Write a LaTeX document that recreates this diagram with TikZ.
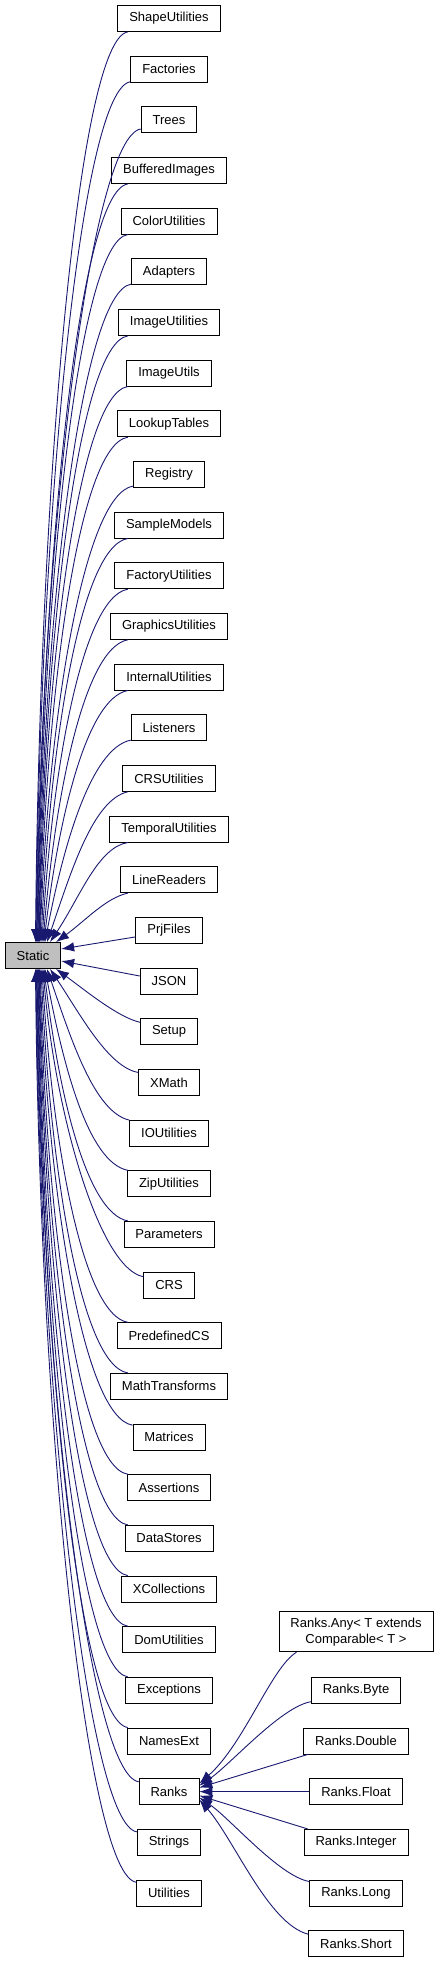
\documentclass[tikz,border=0pt]{standalone}
\usepackage{fontspec}
\setmainfont{Liberation Sans}
\usetikzlibrary{arrows.meta}
\definecolor{midnight}{HTML}{191970}
\definecolor{staticgray}{HTML}{BFBFBF}

\begin{document}
\begin{tikzpicture}[x=1pt, y=-1pt,
    cls/.style={draw, rectangle, fill=white, line width=0.8pt, minimum height=26pt, inner xsep=11.5pt, inner ysep=6pt, align=center, font=\fontsize{13}{16}\selectfont},
    inh/.style={draw=midnight, line width=0.9pt, -{Latex[length=13pt, width=9.5pt]}}]
    \useasboundingbox (0,0) rectangle (440,1963);

    \node[cls, fill=staticgray] (static) at (33,955.5) {Static};

    \node[cls] (shapeutil) at (169,18.5) {ShapeUtilities};
    \node[cls] (factories) at (169,69.2) {Factories};
    \node[cls] (trees) at (169,119.8) {Trees};
    \node[cls] (buffimg) at (169,170.5) {BufferedImages};
    \node[cls] (colorutil) at (169,221.1) {ColorUtilities};
    \node[cls] (adapters) at (169,271.8) {Adapters};
    \node[cls] (imageutil) at (169,322.5) {ImageUtilities};
    \node[cls] (imageutils) at (169,373.1) {ImageUtils};
    \node[cls] (lookup) at (169,423.8) {LookupTables};
    \node[cls] (registry) at (169,474.4) {Registry};
    \node[cls] (samplemod) at (169,525.1) {SampleModels};
    \node[cls] (factoryutil) at (169,575.8) {FactoryUtilities};
    \node[cls] (graphicsutil) at (169,626.4) {GraphicsUtilities};
    \node[cls] (internalutil) at (169,677.1) {InternalUtilities};
    \node[cls] (listeners) at (169,727.7) {Listeners};
    \node[cls] (crsutil) at (169,778.4) {CRSUtilities};
    \node[cls] (temporalutil) at (169,829.1) {TemporalUtilities};
    \node[cls] (linereaders) at (169,879.7) {LineReaders};
    \node[cls] (prjfiles) at (169,930.4) {PrjFiles};
    \node[cls] (json) at (169,981.0) {JSON};
    \node[cls] (setup) at (169,1031.7) {Setup};
    \node[cls] (xmath) at (169,1082.4) {XMath};
    \node[cls] (ioutil) at (169,1133.0) {IOUtilities};
    \node[cls] (ziputil) at (169,1183.7) {ZipUtilities};
    \node[cls] (parameters) at (169,1234.3) {Parameters};
    \node[cls] (crs) at (169,1285.0) {CRS};
    \node[cls] (predefcs) at (169,1335.7) {PredefinedCS};
    \node[cls] (mathtrans) at (169,1386.3) {MathTransforms};
    \node[cls] (matrices) at (169,1437.0) {Matrices};
    \node[cls] (assertions) at (169,1487.6) {Assertions};
    \node[cls] (datastores) at (169,1538.3) {DataStores};
    \node[cls] (xcoll) at (169,1589.0) {XCollections};
    \node[cls] (domutil) at (169,1639.6) {DomUtilities};
    \node[cls] (exceptions) at (169,1690.3) {Exceptions};
    \node[cls] (namesext) at (169,1740.9) {NamesExt};
    \node[cls] (ranks) at (169,1791.6) {Ranks};
    \node[cls] (strings) at (169,1842.3) {Strings};
    \node[cls] (utilities) at (169,1892.9) {Utilities};

    % subclasses of Ranks
    \node[cls] (rany) at (356,1631.7) {Ranks.Any< T extends\\Comparable< T >};
    \node[cls] (rbyte) at (356,1690.3) {Ranks.Byte};
    \node[cls] (rdouble) at (356,1740.9) {Ranks.Double};
    \node[cls] (rfloat) at (356,1791.6) {Ranks.Float};
    \node[cls] (rinteger) at (356,1842.3) {Ranks.Integer};
    \node[cls] (rlong) at (356,1892.9) {Ranks.Long};
    \node[cls] (rshort) at (356,1943.6) {Ranks.Short};

    % upper half, into the top of Static
    \draw[inh] (shapeutil.198) .. controls +(-50,8) and +(4,-450) .. ([xshift=2.5pt]static.north);
    \draw[inh] (factories.198) .. controls +(-50,8) and +(4,-425) .. ([xshift=3pt]static.north);
    \draw[inh] (trees.198) .. controls +(-50,8) and +(4,-400) .. ([xshift=3.5pt]static.north);
    \draw[inh] (buffimg.198) .. controls +(-50,8) and +(5,-375) .. ([xshift=4pt]static.north);
    \draw[inh] (colorutil.198) .. controls +(-50,8) and +(5,-350) .. ([xshift=4.5pt]static.north);
    \draw[inh] (adapters.198) .. controls +(-50,8) and +(5,-325) .. ([xshift=5pt]static.north);
    \draw[inh] (imageutil.198) .. controls +(-50,8) and +(6,-300) .. ([xshift=5.5pt]static.north);
    \draw[inh] (imageutils.198) .. controls +(-50,8) and +(6,-270) .. ([xshift=6pt]static.north);
    \draw[inh] (lookup.198) .. controls +(-50,8) and +(7,-245) .. ([xshift=6.5pt]static.north);
    \draw[inh] (registry.198) .. controls +(-50,8) and +(8,-220) .. ([xshift=7pt]static.north);
    \draw[inh] (samplemod.198) .. controls +(-48,8) and +(9,-195) .. ([xshift=8pt]static.north);
    \draw[inh] (factoryutil.198) .. controls +(-46,8) and +(10,-170) .. ([xshift=9pt]static.north);
    \draw[inh] (graphicsutil.198) .. controls +(-44,8) and +(12,-145) .. ([xshift=10pt]static.north);
    \draw[inh] (internalutil.198) .. controls +(-42,8) and +(14,-120) .. ([xshift=11pt]static.north);
    \draw[inh] (listeners.198) .. controls +(-40,8) and +(18,-95) .. ([xshift=12pt]static.north);
    \draw[inh] (crsutil.198) .. controls +(-35,8) and +(24,-70) .. ([xshift=14pt]static.north);
    \draw[inh] (temporalutil.198) .. controls +(-30,5) and +(30,-45) .. ([xshift=17pt]static.north);
    \draw[inh] (linereaders.198) .. controls +(-22,5) and +(30,-22) .. ([xshift=23pt]static.north);
    % the two next to it
    \draw[inh] ([yshift=-6.5pt]prjfiles.west) -- ([yshift=6.5pt]static.east);
    \draw[inh] ([yshift=5pt]json.west) -- ([yshift=-5.5pt]static.east);
    % lower half, into the bottom of Static
    \draw[inh] (setup.162) .. controls +(-22,-5) and +(30,22) .. ([xshift=23pt]static.south);
    \draw[inh] (xmath.162) .. controls +(-30,-5) and +(30,45) .. ([xshift=17pt]static.south);
    \draw[inh] (ioutil.162) .. controls +(-35,-8) and +(24,70) .. ([xshift=14pt]static.south);
    \draw[inh] (ziputil.162) .. controls +(-40,-8) and +(18,95) .. ([xshift=12pt]static.south);
    \draw[inh] (parameters.162) .. controls +(-42,-8) and +(14,120) .. ([xshift=11pt]static.south);
    \draw[inh] (crs.162) .. controls +(-44,-8) and +(12,145) .. ([xshift=10pt]static.south);
    \draw[inh] (predefcs.162) .. controls +(-46,-8) and +(10,170) .. ([xshift=9pt]static.south);
    \draw[inh] (mathtrans.162) .. controls +(-48,-8) and +(9,195) .. ([xshift=8pt]static.south);
    \draw[inh] (matrices.162) .. controls +(-50,-8) and +(8,220) .. ([xshift=7pt]static.south);
    \draw[inh] (assertions.162) .. controls +(-50,-8) and +(7,245) .. ([xshift=6.5pt]static.south);
    \draw[inh] (datastores.162) .. controls +(-50,-8) and +(6,270) .. ([xshift=6pt]static.south);
    \draw[inh] (xcoll.162) .. controls +(-50,-8) and +(6,300) .. ([xshift=5.5pt]static.south);
    \draw[inh] (domutil.162) .. controls +(-50,-8) and +(5,325) .. ([xshift=5pt]static.south);
    \draw[inh] (exceptions.162) .. controls +(-50,-8) and +(5,350) .. ([xshift=4.5pt]static.south);
    \draw[inh] (namesext.162) .. controls +(-50,-8) and +(5,375) .. ([xshift=4pt]static.south);
    \draw[inh] (ranks.162) .. controls +(-50,-8) and +(4,400) .. ([xshift=3.5pt]static.south);
    \draw[inh] (strings.162) .. controls +(-50,-8) and +(4,425) .. ([xshift=3pt]static.south);
    \draw[inh] (utilities.162) .. controls +(-50,-8) and +(4,450) .. ([xshift=2.5pt]static.south);

    % into Ranks
    \draw[inh] ([xshift=18pt]rany.south west) .. controls +(-25,15) and +(45,-40) .. ([yshift=8pt]ranks.east);
    \draw[inh] ([yshift=2pt]rbyte.south west) .. controls +(-30,5) and +(30,-20) .. ([yshift=6pt]ranks.east);
    \draw[inh] ([xshift=5pt]rdouble.south west) -- ([yshift=4pt]ranks.east);
    \draw[inh] (rfloat.west) -- (ranks.east);
    \draw[inh] ([xshift=4pt]rinteger.north west) -- ([yshift=-4pt]ranks.east);
    \draw[inh] ([yshift=-2pt]rlong.north west) .. controls +(-30,-5) and +(30,20) .. ([yshift=-6pt]ranks.east);
    \draw[inh] ([yshift=-4pt]rshort.north west) .. controls +(-40,-10) and +(35,40) .. ([yshift=-8pt]ranks.east);
\end{tikzpicture}
\end{document}
